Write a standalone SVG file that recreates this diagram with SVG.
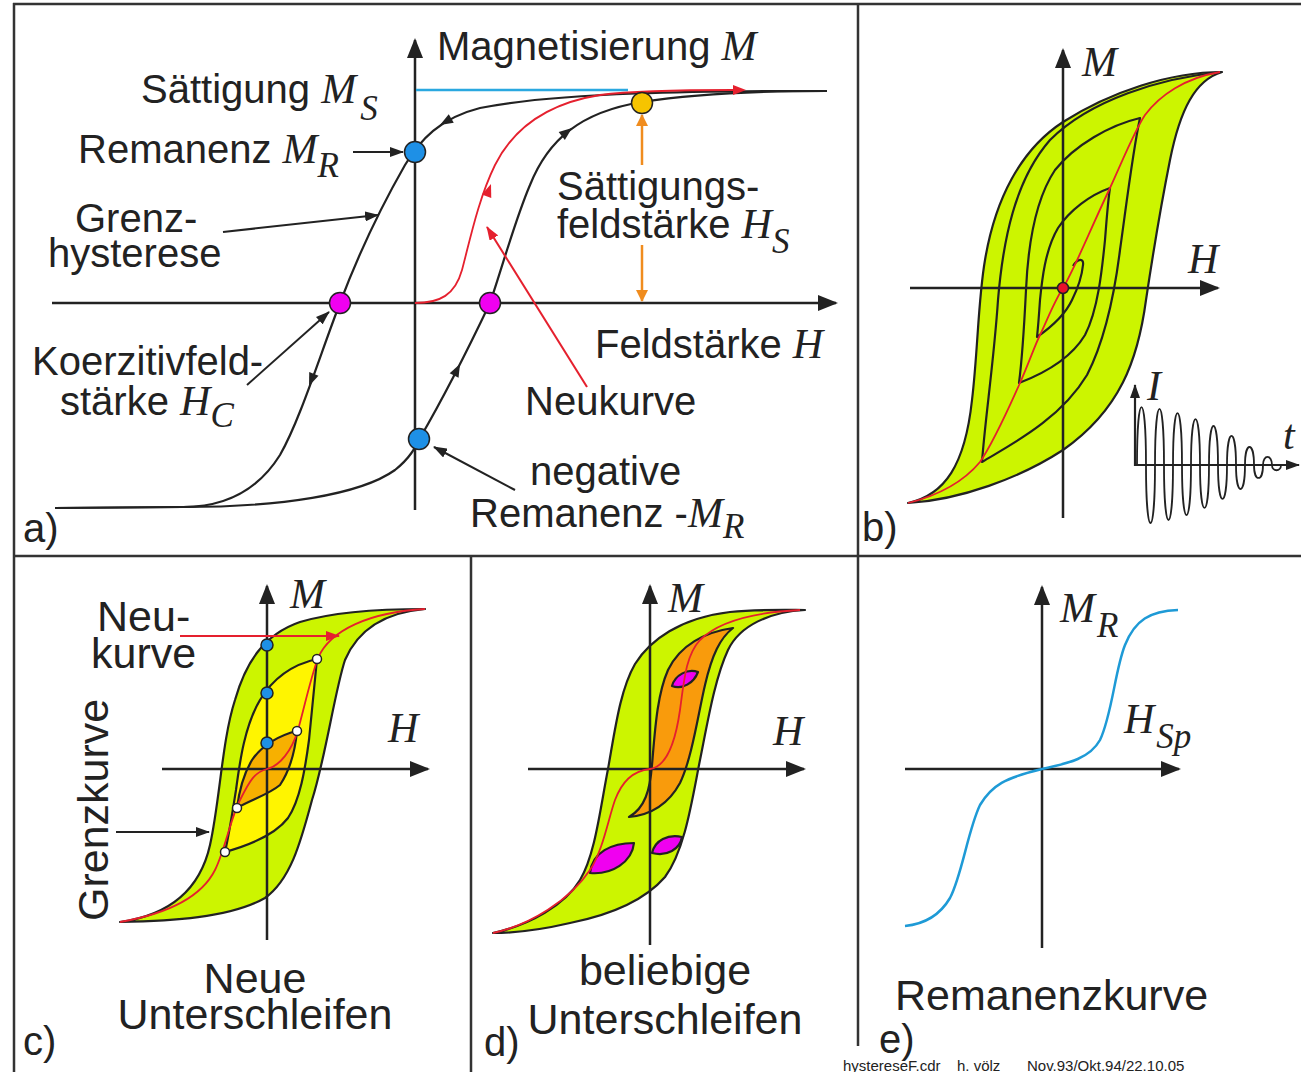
<svg xmlns="http://www.w3.org/2000/svg" width="1301" height="1072" viewBox="0 0 1301 1072">
<style>
.frame{stroke:#333;stroke-width:2.5;fill:none}
.ax{stroke:#222;stroke-width:2.5;fill:none;marker-end:url(#axh)}
.ax2{stroke:#222;stroke-width:2.2;fill:none;marker-end:url(#pth)}
.cv{stroke:#222;stroke-width:2.2;stroke-linejoin:round}
.lp{stroke:#222;stroke-width:2.2;fill:#CCF500;stroke-linejoin:round}
.rd{stroke:#E5202E;stroke-width:1.8;fill:none}
.ptr{stroke:#222;stroke-width:2;fill:none;marker-end:url(#pth)}
.rptr{stroke:#E5202E;stroke-width:2;fill:none;marker-end:url(#rdh)}
.optr{stroke:#F08C1E;stroke-width:2.5;fill:none;marker-end:url(#orh)}
.t{font-family:"Liberation Sans",Arial,sans-serif;fill:#222;font-size:40px}
.t2{font-family:"Liberation Sans",Arial,sans-serif;fill:#222;font-size:43px}
.i{font-family:"Liberation Serif","Times New Roman",serif;font-style:italic;fill:#222;font-size:42px}
.s{font-family:"Liberation Serif","Times New Roman",serif;font-style:italic;font-size:35px}
.dot{stroke:#222;stroke-width:1.5}
.blue{fill:#1E90E6}
.mag{fill:#F000F0}
.wd{fill:#fff;stroke:#222;stroke-width:1.5}
</style>
<defs>
<marker id="axh" markerUnits="userSpaceOnUse" markerWidth="20" markerHeight="16" refX="18" refY="8" orient="auto"><path d="M0,0 L20,8 L0,16 Z" fill="#222"/></marker>
<marker id="pth" markerUnits="userSpaceOnUse" markerWidth="14" markerHeight="10" refX="13" refY="5" orient="auto"><path d="M0,0 L14,5 L0,10 Z" fill="#222"/></marker>
<marker id="rdh" markerUnits="userSpaceOnUse" markerWidth="14" markerHeight="10" refX="13" refY="5" orient="auto"><path d="M0,0 L14,5 L0,10 Z" fill="#E5202E"/></marker>
<marker id="orh" markerUnits="userSpaceOnUse" markerWidth="12" markerHeight="12" refX="11" refY="6" orient="auto"><path d="M0,0 L12,6 L0,12 Z" fill="#F08C1E"/></marker>
<path id="tri" d="M0,0 L-13,-5 L-13,5 Z"/>
</defs>

<g id="frame" class="frame">
<line x1="13" y1="4" x2="1301" y2="4"/>
<line x1="14" y1="3" x2="14" y2="1072"/>
<line x1="858" y1="4" x2="858" y2="556"/>
<line x1="13" y1="556" x2="1301" y2="556"/>
<line x1="471" y1="556" x2="471" y2="1072"/>
<line x1="858" y1="556" x2="858" y2="1046"/>
</g>

<!-- Panel a -->
<g id="panel-a">
<line class="ax" x1="415" y1="510" x2="415" y2="40"/>
<line class="ax" x1="52" y1="303" x2="836" y2="303"/>
<line x1="416" y1="90" x2="628" y2="90" stroke="#2AA8E0" stroke-width="2.5"/>
<path id="a-desc" class="cv" fill="none" d="M827,91 C700,91 560,92 480,108 C440,118 420,140 405,165 C385,200 360,250 340,303 C320,355 300,420 280,455 C255,495 220,507 183,507 L55,508"/>
<path id="a-asc" class="cv" fill="none" d="M55,508 L183,507 C280,507 360,495 395,470 C410,458 415,448 420,438 C445,395 470,345 490,303 C503,265 515,220 530,185 C548,140 580,112 642,102 C700,93 760,91 827,91"/>
<path id="a-neu" class="rd" d="M415,303 C440,303 455,295 462,270 C470,240 478,200 495,165 C515,125 550,103 600,95 C640,90 700,90 733,90"/>
<use href="#tri" fill="#E5202E" transform="translate(746,90)"/>
<use href="#tri" fill="#E5202E" transform="translate(491,184) rotate(-70)"/>
<use href="#tri" fill="#222" transform="translate(440,125) rotate(150)"/>
<use href="#tri" fill="#222" transform="translate(309,386) rotate(112)"/>
<use href="#tri" fill="#222" transform="translate(460,364) rotate(-63)"/>
<use href="#tri" fill="#222" transform="translate(572,128) rotate(-38)"/>
<line class="optr" x1="642" y1="165" x2="642" y2="115"/>
<line class="optr" x1="642" y1="245" x2="642" y2="301"/>
<circle class="dot blue" cx="415" cy="152" r="10.5"/>
<circle class="dot blue" cx="419" cy="439" r="10.5"/>
<circle class="dot mag" cx="340" cy="303" r="10.5"/>
<circle class="dot mag" cx="490" cy="303" r="10.5"/>
<circle class="dot" fill="#F6C400" cx="642" cy="103" r="10.5"/>
<text class="t" x="437" y="60">Magnetisierung <tspan class="i">M</tspan></text>
<text class="t" x="141" y="103">Sättigung <tspan class="i">M</tspan><tspan class="s" dx="4" dy="17">S</tspan></text>
<text class="t" x="78" y="163">Remanenz <tspan class="i">M</tspan><tspan class="s" dx="0" dy="14">R</tspan></text>
<text class="t"><tspan x="75" y="232">Grenz-</tspan><tspan x="48" y="267">hysterese</tspan></text>
<text class="t"><tspan x="32" y="375">Koerzitivfeld-</tspan><tspan x="60" y="415">stärke </tspan><tspan class="i">H</tspan><tspan class="s" dx="0" dy="12">C</tspan></text>
<text class="t"><tspan x="557" y="200">Sättigungs-</tspan><tspan x="557" y="238">feldstärke </tspan><tspan class="i">H</tspan><tspan class="s" dx="0" dy="15">S</tspan></text>
<text class="t" x="595" y="358">Feldstärke <tspan class="i">H</tspan></text>
<text class="t" x="525" y="415">Neukurve</text>
<text class="t"><tspan x="530" y="485">negative</tspan><tspan x="470" y="527">Remanenz -</tspan><tspan class="i">M</tspan><tspan class="s" dx="0" dy="11">R</tspan></text>
<text class="t" x="23" y="542">a)</text>
</g>

<!-- Panel b -->
<g id="panel-b">
<path id="b-outer" class="lp" d="M908,503 C945,495 965,465 972,400 C978,350 978,300 985,260 C995,200 1020,150 1063,122 C1110,92 1170,72 1222,72 C1195,80 1180,110 1170,160 C1160,210 1152,260 1146,300 C1138,360 1120,410 1063,450 C1020,478 960,500 908,503 Z"/>
<path id="b-spiral" class="cv" fill="none" d="M1222,72 C1160,78 1090,100 1050,140 C1015,180 1003,240 998,300 C994,360 985,420 982,462 C1010,445 1060,420 1087,375 C1105,340 1115,290 1120,250 C1127,200 1133,150 1140,118 C1110,125 1075,145 1055,170 C1035,200 1028,245 1026,290 C1024,330 1022,360 1019,383 C1040,375 1070,360 1085,335 C1098,310 1102,270 1105,240 C1107,215 1108,200 1110,188 C1090,195 1070,210 1058,228 C1045,250 1042,280 1040,300 C1039,315 1038,328 1037,337 C1050,328 1065,315 1072,300 C1078,288 1082,275 1083,265 C1084,258 1078,258 1073,266"/>
<path id="b-red" class="rd" d="M908,503 C940,495 965,480 980,462 C995,440 1010,405 1020,383 C1030,360 1035,345 1040,335 C1048,318 1055,300 1063,288 C1075,268 1090,230 1110,188 C1125,155 1135,130 1145,115 C1160,95 1185,78 1220,72"/>
<line class="ax" x1="1063" y1="518" x2="1063" y2="50"/>
<line class="ax" x1="910" y1="288" x2="1218" y2="288"/>
<circle class="dot" fill="#E8102A" cx="1063" cy="288" r="5.5"/>
<line class="ax2" x1="1135" y1="466" x2="1135" y2="385"/>
<line class="ax2" x1="1134" y1="465" x2="1299" y2="465"/>
<path id="b-wave" fill="none" stroke="#222" stroke-width="1.8" d="M1137,465 C1137,387.7 1146,387.7 1146,465 C1146,542.3 1155,542.3 1155,465 C1155,390.3 1164,390.3 1164,465 C1164,538.3 1173,538.3 1173,465 C1173,395.7 1182,395.7 1182,465 C1182,531.7 1191,531.7 1191,465 C1191,403.7 1200,403.7 1200,465 C1200,522.3 1209,522.3 1209,465 C1209,413 1218,413 1218,465 C1218,510.3 1227,510.3 1227,465 C1227,426.3 1236,426.3 1236,465 C1236,497 1245,497 1245,465 C1245,441 1254,441 1254,465 C1254,482.3 1263,482.3 1263,465 C1263,454.3 1272,454.3 1272,465 C1272,472 1281,472 1281,465"/>
<text class="i" x="1082" y="76" font-size="40">M</text>
<text class="i" x="1188" y="273" font-size="40">H</text>
<text class="i" x="1147" y="400" font-size="30">I</text>
<text class="i" x="1283" y="449" font-size="30">t</text>
<text class="t" x="862" y="541">b)</text>
</g>

<!-- Panel c -->
<g id="panel-c">
<path id="c-outer" class="lp" d="M120,922 C170,915 200,890 210,845 C220,800 222,740 235,700 C245,665 262,635 300,622 C340,610 390,609 425,609 C390,612 360,625 345,660 C335,690 325,760 312,800 C300,845 290,880 265,898 C230,918 170,921 120,922 Z"/>
<path id="c-loop1" class="cv" fill="#FFF500" d="M317,659 C290,665 272,680 260,700 C245,725 240,760 236,790 C232,815 229,835 225,852 C250,845 275,835 288,818 C300,800 305,770 309,740 C312,710 315,680 317,659 Z"/>
<path id="c-loop2" class="cv" fill="#F7B000" d="M297,731 C280,735 262,745 252,760 C243,775 239,792 237,808 C250,800 268,795 280,785 C290,770 295,752 297,731 Z"/>
<line class="ax" x1="267" y1="940" x2="267" y2="586"/>
<line class="ax" x1="162" y1="769" x2="428" y2="769"/>
<path id="c-red" class="rd" d="M120,922 C160,915 200,900 215,870 C225,850 230,820 240,800 C250,780 255,772 267,769 C280,766 292,750 298,730 C305,705 310,680 318,658 C330,630 370,612 425,609"/>
<circle class="dot blue" cx="267" cy="645" r="6"/>
<circle class="dot blue" cx="267" cy="693" r="6"/>
<circle class="dot blue" cx="267" cy="743" r="6"/>
<circle class="wd" cx="317" cy="659" r="4.5"/>
<circle class="wd" cx="297" cy="731" r="4.5"/>
<circle class="wd" cx="237" cy="808" r="4.5"/>
<circle class="wd" cx="225" cy="852" r="4.5"/>
<text class="i" x="290" y="608">M</text>
<text class="i" x="388" y="742">H</text>
<text class="t2"><tspan x="97" y="631">Neu-</tspan><tspan x="91" y="668">kurve</tspan></text>
<text class="t2" transform="translate(108,921) rotate(-90)">Grenzkurve</text>
<text class="t2" text-anchor="middle"><tspan x="255" y="993">Neue</tspan><tspan x="255" y="1029">Unterschleifen</tspan></text>
<text class="t" x="23" y="1055">c)</text>
</g>

<!-- Panel d -->
<g id="panel-d">
<path id="d-outer" class="lp" d="M493,933 C530,925 565,905 580,880 C595,855 600,810 608,769 C615,730 620,690 635,664 C650,640 680,618 730,612 C760,609 790,610 805,610 C770,612 740,625 728,650 C715,678 708,720 700,760 C692,800 685,850 665,877 C645,900 610,915 570,923 C540,930 510,933 493,933 Z"/>
<path id="d-inner" class="cv" fill="#F99B0C" d="M733,628 C705,632 680,645 668,670 C657,695 655,730 652,765 C650,790 645,808 629,817 C650,815 668,805 680,783 C692,758 698,715 705,685 C712,655 720,638 733,628 Z"/>
<path id="d-lens1" class="cv" fill="#F000F0" d="M672,686 C675,675 688,668 698,672 C694,683 682,690 672,686 Z"/>
<path id="d-lens2" class="cv" fill="#F000F0" d="M590,873 C592,852 612,843 634,843 C632,862 612,875 590,873 Z"/>
<path id="d-lens3" class="cv" fill="#F000F0" d="M652,853 C655,840 668,834 682,837 C680,849 667,857 652,853 Z"/>
<line class="ax" x1="650" y1="945" x2="650" y2="586"/>
<line class="ax" x1="528" y1="769" x2="804" y2="769"/>
<path id="d-red" class="rd" d="M493,933 C530,925 570,900 590,870 C603,850 608,820 615,800 C622,782 632,771 650,769 C665,767 675,745 680,710 C684,680 686,655 700,640 C720,620 760,612 800,610"/>
<text class="i" x="668" y="612">M</text>
<text class="i" x="773" y="745">H</text>
<text class="t2" text-anchor="middle"><tspan x="665" y="985">beliebige</tspan><tspan x="665" y="1034">Unterschleifen</tspan></text>
<text class="t" x="484" y="1056">d)</text>
</g>

<!-- Panel e -->
<g id="panel-e">
<line class="ax" x1="1042" y1="948" x2="1042" y2="587"/>
<line class="ax" x1="905" y1="769" x2="1179" y2="769"/>
<path id="e-curve" fill="none" stroke="#1E9AD6" stroke-width="2.5" d="M905,926 C925,924 940,915 950,898 C962,875 968,830 980,805 C992,785 1005,778 1042,769 C1070,763 1090,758 1100,740 C1112,715 1115,670 1125,645 C1135,620 1150,611 1178,610"/>
<text class="i" x="1060" y="622">M<tspan class="s" dx="2" dy="15">R</tspan></text>
<text class="i" x="1124" y="733">H<tspan class="s" dx="2" dy="15">Sp</tspan></text>
<text class="t2" x="895" y="1010">Remanenzkurve</text>
<text class="t" x="879" y="1053">e)</text>
<text font-family="Liberation Sans,Arial,sans-serif" font-size="15" fill="#222" y="1071"><tspan x="843">hystereseF.cdr</tspan><tspan x="957">h. völz</tspan><tspan x="1027">Nov.93/Okt.94/22.10.05</tspan></text>
</g>

<g id="connectors">
<line class="ptr" x1="353" y1="152" x2="403" y2="152"/>
<line class="ptr" x1="223" y1="232" x2="378" y2="215"/>
<line class="ptr" x1="247" y1="385" x2="329" y2="312"/>
<line class="ptr" x1="515" y1="490" x2="434" y2="447"/>
<line class="rptr" x1="587" y1="387" x2="487" y2="227"/>
<line class="rptr" x1="180" y1="636" x2="339" y2="636"/>
<line class="ptr" x1="116" y1="832" x2="209" y2="832"/>
</g>
</svg>
